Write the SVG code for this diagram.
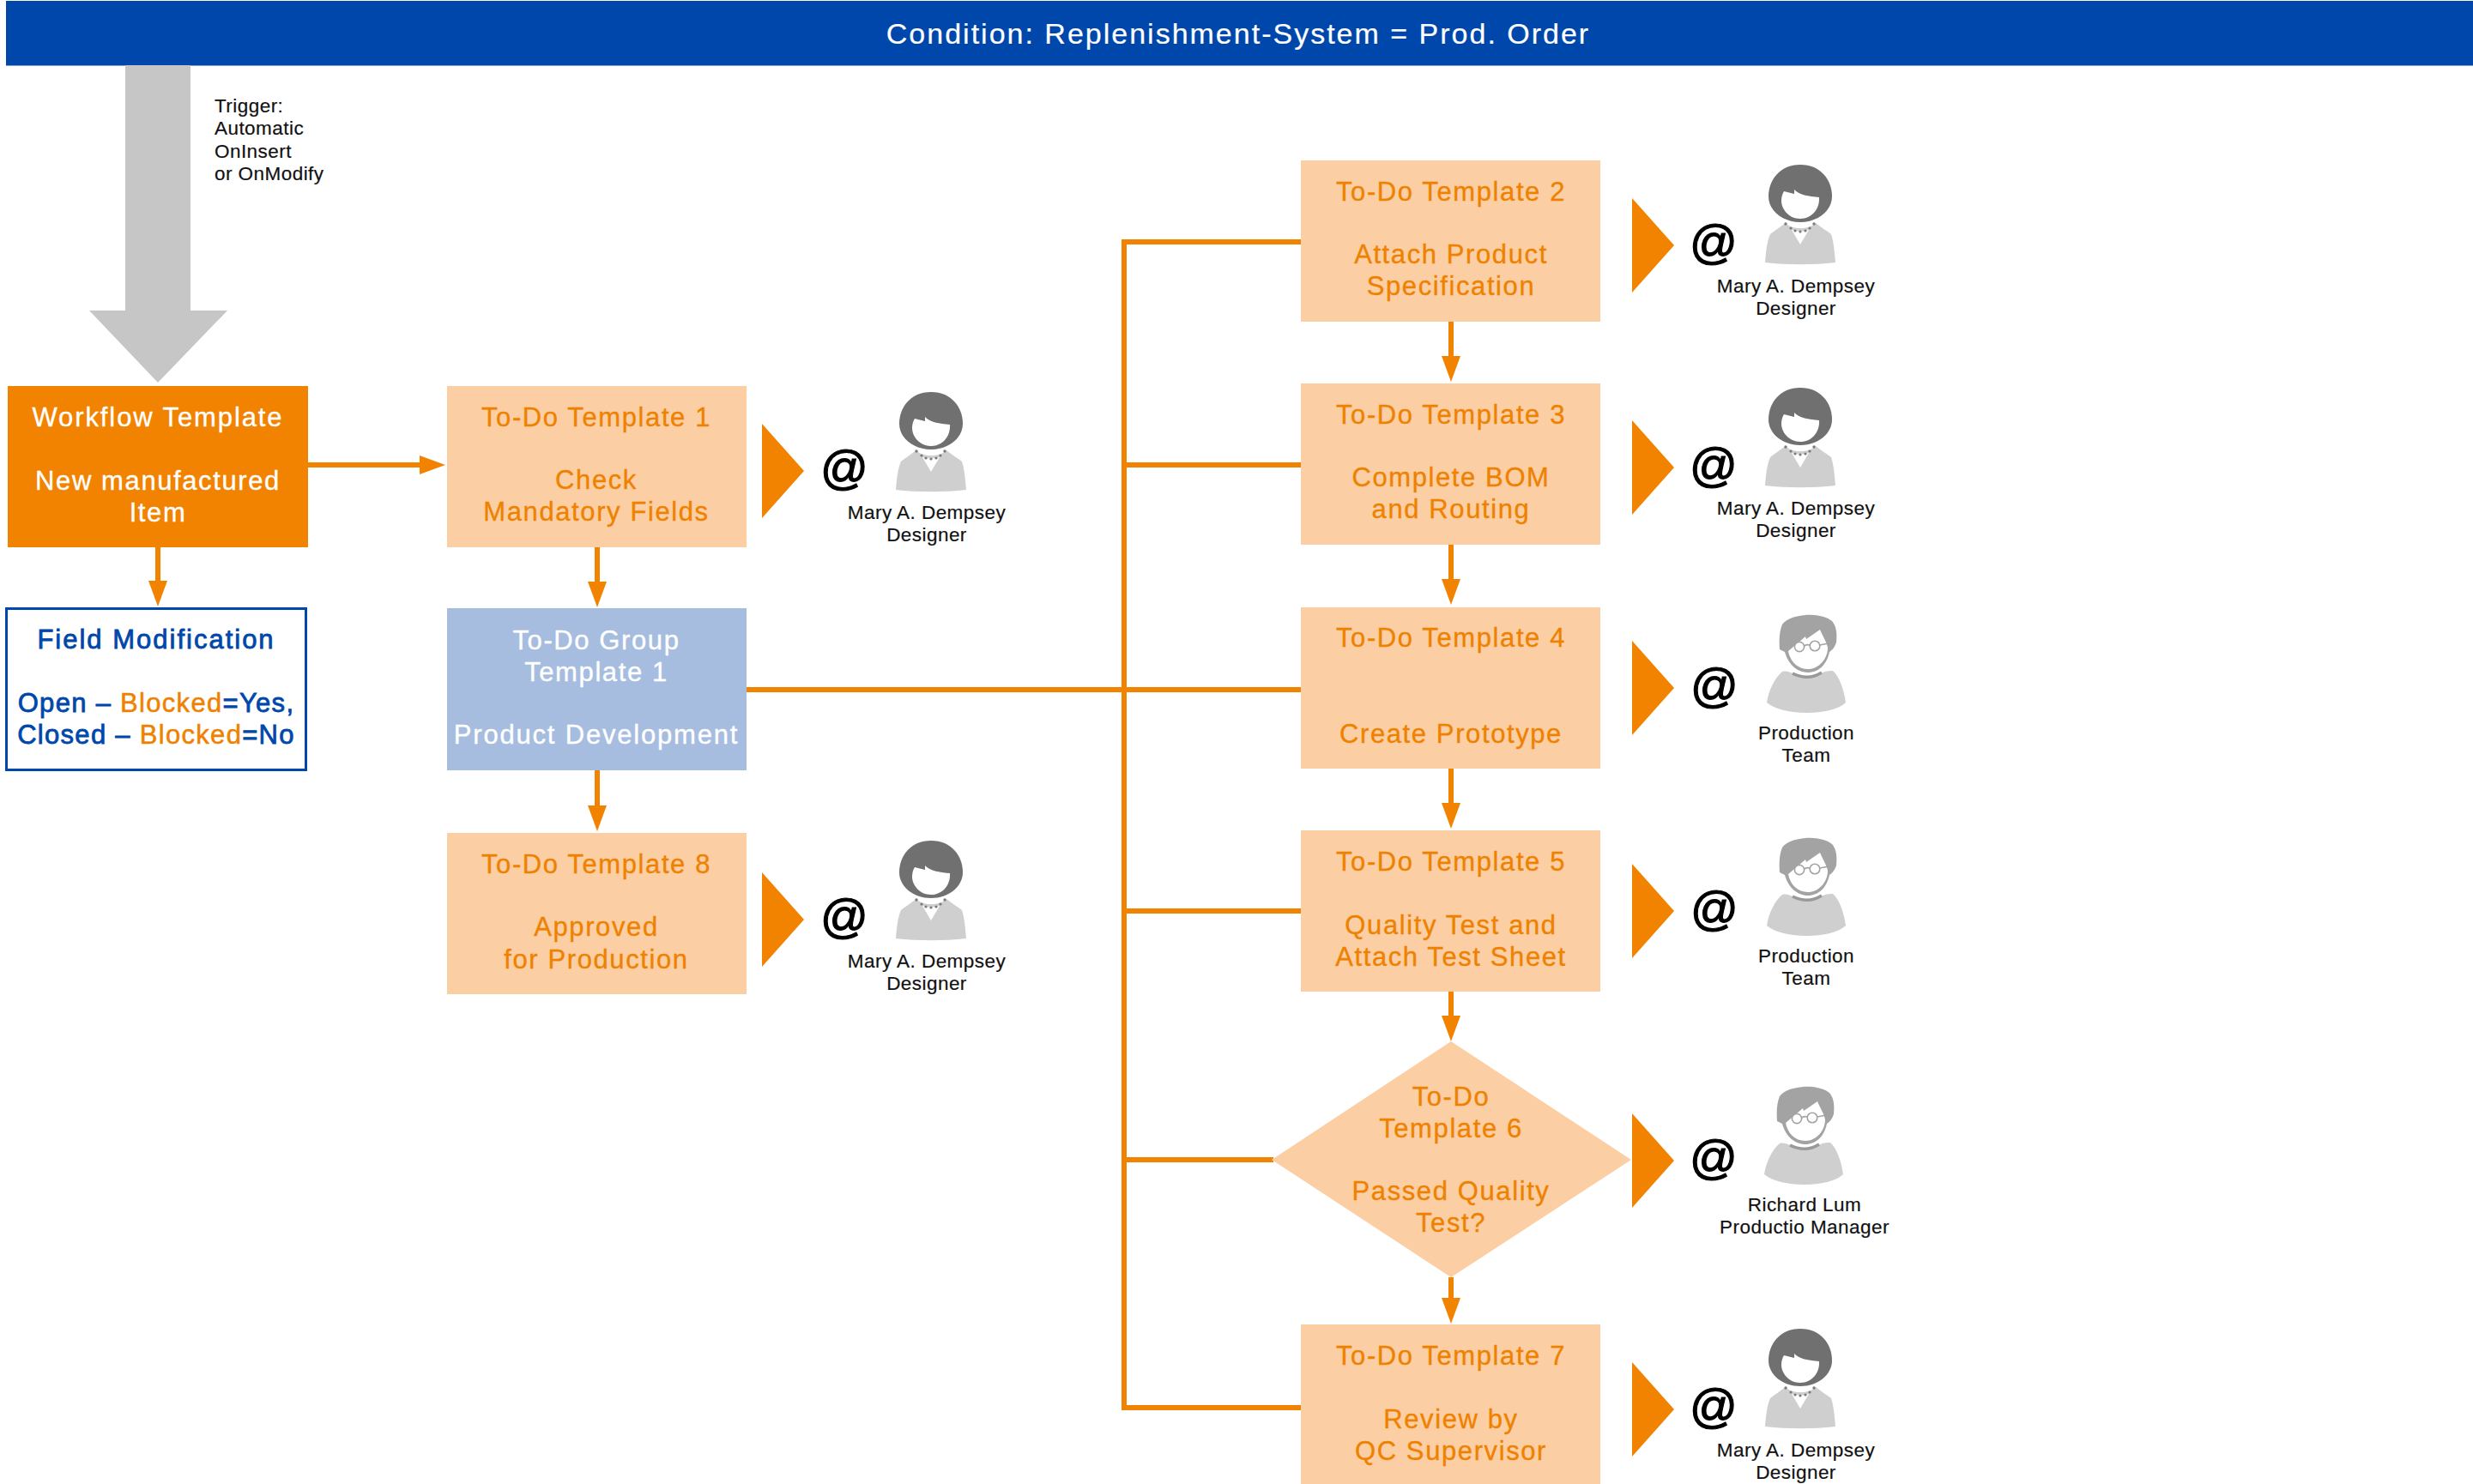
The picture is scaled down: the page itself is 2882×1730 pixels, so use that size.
<svg xmlns="http://www.w3.org/2000/svg" xmlns:xlink="http://www.w3.org/1999/xlink" width="2882" height="1730" viewBox="0 0 2882 1730">
<style>
text{font-family:"Liberation Sans",Arial,sans-serif}
.t{font-size:31px;letter-spacing:1.6px;text-anchor:middle;stroke-width:.35px}
.o{fill:#EF8100;stroke:#EF8100}
.w{fill:#FFFFFF;stroke:#FFFFFF}
.b{fill:#0047AB;stroke:#0047AB;stroke-width:.8px;font-size:31px;letter-spacing:1.3px;text-anchor:middle}
.b tspan{fill:#EF8100;stroke:#EF8100;stroke-width:.5px}
.n{font-size:22.5px;letter-spacing:.45px;fill:#111;stroke:#111;stroke-width:.2px;text-anchor:middle}
.at{font-size:55px;fill:#000;stroke:#000;stroke-width:1.2px;text-anchor:middle}
.lt{fill:#FBCFA3}
.tri{fill:#F28300}
.c{fill:none;stroke:#F28300;stroke-width:6px}
</style>
<defs>
<marker id="ah" markerUnits="userSpaceOnUse" markerWidth="30" markerHeight="24" refX="0" refY="12" orient="auto"><path d="M0,1 L30,12 L0,23Z" fill="#F28300"/></marker>
<g id="woman">
<path d="M-17,68 C-24,73 -30,77 -35,81 C-39,90 -40,102 -41,114 C-15,117 15,117 41,114 C40,102 39,90 36,81 C31,77 24,73 18,68 C10,76 -10,76 -17,68Z" fill="#CFCFCF"/>
<path d="M-10,76 L0,93 L10,76 Q0,79 -10,76Z" fill="#FFFFFF"/>
<path d="M0,0 C24,0 37,18 37,37 C37,54 20,67 0,67 C-20,67 -37,54 -37,37 C-37,18 -24,0 0,0Z" fill="#707070"/>
<path d="M-19,31 L-7,34 L-7,29 C-2,35 10,37 22,38 C23,52 13,63 0,63 C-13,63 -22,52 -22,42 C-22,38 -21,34 -19,31Z" fill="#FFFFFF"/>
<g fill="#7A7A7A"><circle cx="-17" cy="69" r="1.7"/><circle cx="-11" cy="74" r="1.6"/><circle cx="-6" cy="77" r="1.6"/><circle cx="0" cy="78" r="1.6"/><circle cx="6" cy="77" r="1.6"/><circle cx="11" cy="74" r="1.6"/><circle cx="16" cy="69" r="1.7"/></g>
</g>
<g id="man">
<path d="M-30,66 C-38,72 -46,88 -48,102 C-30,118 28,118 44,102 C42,88 37,72 29,65 C22,65 18,66 16,68 Q0,77 -18,68 C-22,66 -26,65 -30,66Z" fill="#CFCFCF"/>
<path d="M-18,68 Q0,77 16,67" fill="none" stroke="#999" stroke-width="3.5"/>
<path d="M-3,0 C10,-1 22,2 28,7 C33,13 34,20 33,32 C31,38 28,41 25,43 C22,58 12,67 0,67 C-12,67 -23,58 -27,43 L-33,40 C-34,28 -33,18 -30,11 C-25,4 -14,1 -3,0Z" fill="#A3A3A3"/>
<path d="M-23,42 L-3,25 L-2,28 L14,17 C17,24 22,32 23,38 C23,52 12,63 0,63 C-12,63 -21,54 -23,42Z" fill="#FFFFFF"/>
<g fill="#FFFFFF" stroke="#A3A3A3" stroke-width="1.6"><circle cx="-10" cy="37" r="5.6"/><circle cx="8" cy="36" r="5.8"/></g>
<path d="M-4.5,36 Q-1,34 2.2,35 M13.7,35 L24,33" fill="none" stroke="#A3A3A3" stroke-width="1.6"/>
</g>
<polygon id="send" points="0,0 49,55 0,110" class="tri"/>
</defs>

<rect id="banner" x="7" y="1" width="2875" height="75.5" fill="#0047AB"/>
<text x="1443" y="51" font-size="34" letter-spacing="2" text-anchor="middle" class="w" stroke-width=".2">Condition: Replenishment-System = Prod. Order</text>

<g id="trigger">
<polygon points="146,76 222,76 222,362 265,362 184,446 104,362 146,362" fill="#C6C6C6"/>
<text class="n" style="text-anchor:start" x="250" y="131">Trigger:</text>
<text class="n" style="text-anchor:start" x="250" y="157">Automatic</text>
<text class="n" style="text-anchor:start" x="250" y="183.5">OnInsert</text>
<text class="n" style="text-anchor:start" x="250" y="209.5">or OnModify</text>
</g>

<g id="connectors">
<path class="c" d="M1310,282 H1516 M1310,279 V1644 M1310,542 H1516 M870,804 H1516 M1310,1062 H1516 M1310,1352 H1484 M1307,1641 H1516"/>
<path class="c" d="M359,542 H489" marker-end="url(#ah)"/>
<path class="c" d="M184,638 V677" marker-end="url(#ah)"/>
<path class="c" d="M696,638 V678" marker-end="url(#ah)"/>
<path class="c" d="M696,898 V939" marker-end="url(#ah)"/>
<path class="c" d="M1691,375 V415" marker-end="url(#ah)"/>
<path class="c" d="M1691,635 V675" marker-end="url(#ah)"/>
<path class="c" d="M1691,896 V936" marker-end="url(#ah)"/>
<path class="c" d="M1691,1156 V1184" marker-end="url(#ah)"/>
<path class="c" d="M1691,1489 V1513" marker-end="url(#ah)"/>
</g>

<g id="workflow-template">
<rect x="9" y="450" width="350" height="188" fill="#F28300"/>
<text class="t w" x="184" y="497" style="letter-spacing:1.9px">Workflow Template</text>
<text class="t w" x="184" y="571">New manufactured</text>
<text class="t w" x="184" y="608">Item</text>
</g>

<g id="field-modification">
<rect x="7.5" y="709.5" width="349" height="188" fill="#FFFFFF" stroke="#0047AB" stroke-width="3"/>
<text class="b" x="182" y="756" style="letter-spacing:2px">Field Modification</text>
<text class="b" x="182" y="830">Open – <tspan>Blocked</tspan>=Yes,</text>
<text class="b" x="182" y="867">Closed – <tspan>Blocked</tspan>=No</text>
</g>

<g id="todo-1">
<rect class="lt" x="521" y="450" width="349" height="188"/>
<text class="t o" x="695" y="497">To-Do Template 1</text>
<text class="t o" x="695" y="570">Check</text>
<text class="t o" x="695" y="607">Mandatory Fields</text>
<use xlink:href="#send" href="#send" x="888" y="494"/>
<text class="at" x="984" y="564">@</text>
<use xlink:href="#woman" href="#woman" x="1085" y="457"/>
<text class="n" x="1080" y="605">Mary A. Dempsey</text>
<text class="n" x="1080" y="631">Designer</text>
</g>

<g id="todo-group-1">
<rect x="521" y="709" width="349" height="189" fill="#A6BDE0"/>
<text class="t w" x="695" y="757">To-Do Group</text>
<text class="t w" x="695" y="794">Template 1</text>
<text class="t w" x="695" y="867" style="letter-spacing:1.8px">Product Development</text>
</g>

<g id="todo-8">
<rect class="lt" x="521" y="971" width="349" height="188"/>
<text class="t o" x="695" y="1018">To-Do Template 8</text>
<text class="t o" x="695" y="1091">Approved</text>
<text class="t o" x="695" y="1129">for Production</text>
<use xlink:href="#send" href="#send" x="888" y="1017"/>
<text class="at" x="984" y="1087">@</text>
<use xlink:href="#woman" href="#woman" x="1085" y="980"/>
<text class="n" x="1080" y="1128">Mary A. Dempsey</text>
<text class="n" x="1080" y="1154">Designer</text>
</g>

<g id="todo-2">
<rect class="lt" x="1516" y="187" width="349" height="188"/>
<text class="t o" x="1691" y="234">To-Do Template 2</text>
<text class="t o" x="1691" y="307">Attach Product</text>
<text class="t o" x="1691" y="344">Specification</text>
<use xlink:href="#send" href="#send" x="1902" y="231"/>
<text class="at" x="1997" y="301">@</text>
<use xlink:href="#woman" href="#woman" x="2098" y="192"/>
<text class="n" x="2093" y="341">Mary A. Dempsey</text>
<text class="n" x="2093" y="367">Designer</text>
</g>

<g id="todo-3">
<rect class="lt" x="1516" y="447" width="349" height="188"/>
<text class="t o" x="1691" y="494">To-Do Template 3</text>
<text class="t o" x="1691" y="567">Complete BOM</text>
<text class="t o" x="1691" y="604">and Routing</text>
<use xlink:href="#send" href="#send" x="1902" y="490"/>
<text class="at" x="1997" y="561">@</text>
<use xlink:href="#woman" href="#woman" x="2098" y="452"/>
<text class="n" x="2093" y="600">Mary A. Dempsey</text>
<text class="n" x="2093" y="626">Designer</text>
</g>

<g id="todo-4">
<rect class="lt" x="1516" y="708" width="349" height="188"/>
<text class="t o" x="1691" y="754">To-Do Template 4</text>
<text class="t o" x="1691" y="866">Create Prototype</text>
<use xlink:href="#send" href="#send" x="1902" y="747"/>
<text class="at" x="1998" y="818">@</text>
<use xlink:href="#man" href="#man" x="2107" y="717"/>
<text class="n" x="2105" y="862">Production</text>
<text class="n" x="2105" y="888">Team</text>
</g>

<g id="todo-5">
<rect class="lt" x="1516" y="968" width="349" height="188"/>
<text class="t o" x="1691" y="1015">To-Do Template 5</text>
<text class="t o" x="1691" y="1089">Quality Test and</text>
<text class="t o" x="1691" y="1126">Attach Test Sheet</text>
<use xlink:href="#send" href="#send" x="1902" y="1007"/>
<text class="at" x="1998" y="1078">@</text>
<use xlink:href="#man" href="#man" x="2107" y="977"/>
<text class="n" x="2105" y="1122">Production</text>
<text class="n" x="2105" y="1148">Team</text>
</g>

<g id="todo-6">
<polygon class="lt" points="1691,1214 1901,1352 1691,1489 1482,1352"/>
<text class="t o" x="1691" y="1289">To-Do</text>
<text class="t o" x="1691" y="1326">Template 6</text>
<text class="t o" x="1691" y="1399">Passed Quality</text>
<text class="t o" x="1691" y="1436">Test?</text>
<use xlink:href="#send" href="#send" x="1902" y="1298"/>
<text class="at" x="1997" y="1368">@</text>
<use xlink:href="#man" href="#man" x="2104" y="1267"/>
<text class="n" x="2103" y="1412">Richard Lum</text>
<text class="n" x="2103" y="1438">Productio Manager</text>
</g>

<g id="todo-7">
<rect class="lt" x="1516" y="1544" width="349" height="186"/>
<text class="t o" x="1691" y="1591">To-Do Template 7</text>
<text class="t o" x="1691" y="1665">Review by</text>
<text class="t o" x="1691" y="1702">QC Supervisor</text>
<use xlink:href="#send" href="#send" x="1902" y="1588"/>
<text class="at" x="1997" y="1658">@</text>
<use xlink:href="#woman" href="#woman" x="2098" y="1549"/>
<text class="n" x="2093" y="1698">Mary A. Dempsey</text>
<text class="n" x="2093" y="1724">Designer</text>
</g>
</svg>
